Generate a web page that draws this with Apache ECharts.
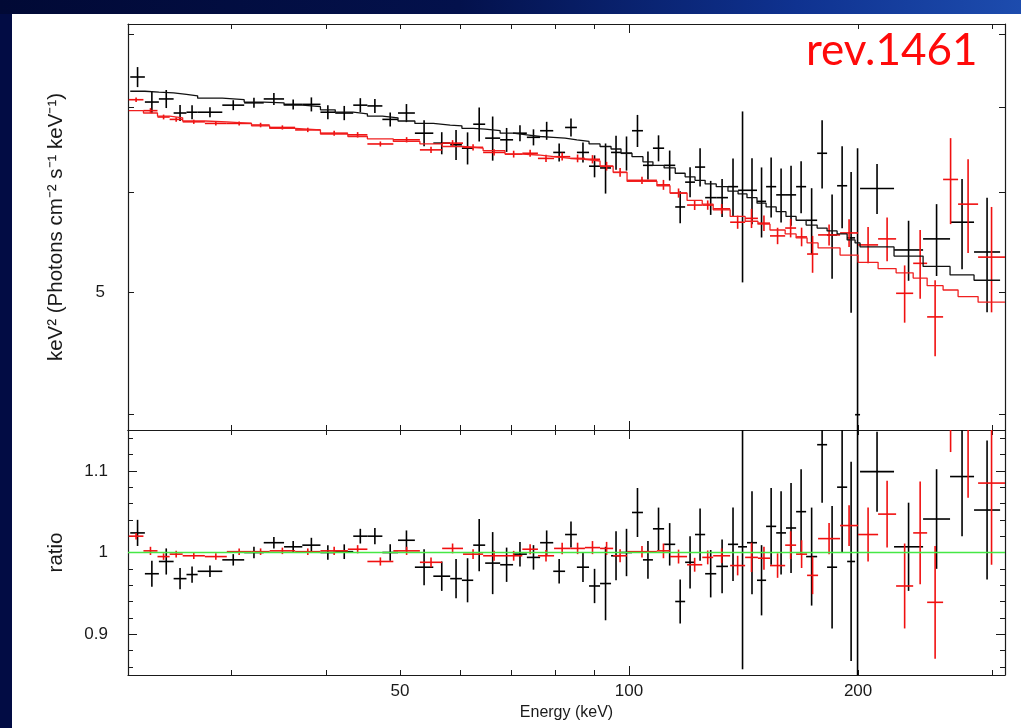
<!DOCTYPE html>
<html>
<head>
<meta charset="utf-8">
<script src="https://cdn.jsdelivr.net/npm/echarts@6/dist/echarts.min.js"></script>
<style>
html, body { margin: 0; padding: 0; width: 1021px; height: 728px; overflow: hidden; background: #020c44; }
#band { position: absolute; left: 0; top: 0; width: 1021px; height: 14px;
        background: linear-gradient(to right, #010935 0%, #03114c 45%, #0f3290 78%, #1d4cae 100%); }
#paper { position: absolute; left: 12px; top: 14px; right: 0; bottom: 0; background: #ffffff; }
#chart { position: absolute; left: 0; top: 0; width: 1021px; height: 728px; }
</style>
</head>
<body>
<div id="band"></div>
<div id="paper"></div>
<div id="chart"></div>
<script>
// axis ranges (keV, flux, ratio)
var energyRange = [21.95, 312];
var fluxRange = [3.89, 8.15];
var ratioRange = [0.85, 1.15];

// tick marks and labels
var energyTicks = [30, 40, 50, 60, 70, 80, 90, 200, 300];
var energyMajorTicks = [100];
var energyLabels = [50, 100, 200];
var fluxTicks = [4, 5, 6, 7, 8];
var fluxLabels = [5];
var ratioTicks = [0.86, 0.88, 0.92, 0.94, 0.96, 0.98, 1.02, 1.04, 1.06, 1.08, 1.12, 1.14];
var ratioMajorTicks = [0.9, 1, 1.1];

// black spectrum: bin edges (keV), data, errors, model, ratio
var blackEdges = [22.1, 23.1, 24.1, 25.2, 26.2, 27.1, 29.2, 31.2, 33.1, 35.2, 37.2, 39.3, 41.1, 43.4, 45.3, 47.4,
  49.7, 52.3, 55.3, 58.2, 60.3, 62.4, 64.7, 67.7, 70.4, 73.4, 76.4, 79.5, 82.4, 85.4, 88.6, 91.6, 94.7, 97.6,
  100.9, 104.3, 107.5, 111.2, 115.0, 118.5, 122.1, 125.9, 130.2, 134.9, 139.1, 142.9, 147.3, 151.4, 156.1,
  160.8, 165.8, 170.9, 176.7, 182.1, 187.7, 193.5, 198.2, 201.2, 223.0, 243.5, 264.2, 284.1, 307.4];
var blackFlux = [7.40, 7.07, 7.11, 6.93, 6.94, 6.94, 7.03, 7.06, 7.11, 7.04,
  7.04, 6.94, 6.93, 7.03, 7.02, 6.85, 6.93, 6.68, 6.56, 6.54,
  6.50, 6.79, 6.62, 6.60, 6.68, 6.63, 6.71, 6.45, 6.75, 6.45,
  6.29, 6.27, 6.45, 6.44, 6.71, 6.30, 6.50, 6.30, 5.84, 6.11,
  6.28, 5.94, 5.94, 6.06, 6.02, 6.02, 5.90, 6.06, 5.97, 5.97,
  6.06, 5.70, 6.44, 5.55, 6.07, 5.52, 4.0, 6.04, 5.40, 5.51,
  5.68, 5.38];
var blackFluxErr = [0.135, 0.142, 0.117, 0.101, 0.089, 0.063, 0.064, 0.064, 0.078, 0.064,
  0.090, 0.089, 0.090, 0.090, 0.090, 0.087, 0.114, 0.158, 0.132, 0.179,
  0.190, 0.210, 0.266, 0.144, 0.097, 0.097, 0.110, 0.106, 0.111, 0.118,
  0.126, 0.286, 0.200, 0.200, 0.196, 0.161, 0.154, 0.172, 0.170, 0.167,
  0.218, 0.184, 0.206, 0.320, 0.93, 0.362, 0.376, 0.331, 0.294, 0.326,
  0.287, 0.343, 0.40, 0.425, 0.453, 0.704, 2.5, 0.275, 0.295, 0.36,
  0.466, 0.559];
var blackModel = [7.21, 7.20, 7.19, 7.17, 7.15, 7.12, 7.10, 7.07, 7.06, 7.03,
  7.01, 6.97, 6.94, 6.92, 6.89, 6.87, 6.83, 6.80, 6.78, 6.77,
  6.74, 6.73, 6.71, 6.68, 6.66, 6.64, 6.63, 6.62, 6.60, 6.58,
  6.55, 6.52, 6.49, 6.44, 6.40, 6.34, 6.30, 6.27, 6.21, 6.17,
  6.13, 6.09, 6.06, 6.01, 5.98, 5.94, 5.88, 5.84, 5.79, 5.74,
  5.70, 5.65, 5.62, 5.59, 5.56, 5.50, 5.47, 5.43, 5.34, 5.24,
  5.16, 5.11];
var blackRatio = [1.024, 0.974, 0.989, 0.968, 0.973, 0.977, 0.991, 1.000, 1.012, 1.007,
  1.009, 1.000, 1.001, 1.020, 1.020, 1.000, 1.015, 0.982, 0.971, 0.968,
  0.966, 1.009, 0.987, 0.985, 0.998, 0.994, 1.012, 0.977, 1.022, 0.982,
  0.959, 0.962, 0.996, 1.000, 1.049, 0.991, 1.029, 1.010, 0.940, 0.988,
  1.022, 0.974, 0.983, 1.010, 1.007, 1.012, 0.966, 1.032, 1.024, 1.030,
  1.050, 0.995, 1.132, 0.982, 1.080, 0.989, 0.73, 1.099, 1.007, 1.041,
  1.093, 1.052];
var blackRatioErr = [0.016, 0.016, 0.016, 0.013, 0.010, 0.007, 0.007, 0.007, 0.007, 0.007,
  0.009, 0.009, 0.009, 0.009, 0.010, 0.010, 0.012, 0.022, 0.018, 0.024,
  0.027, 0.032, 0.038, 0.021, 0.015, 0.015, 0.015, 0.015, 0.016, 0.018,
  0.021, 0.045, 0.030, 0.029, 0.030, 0.023, 0.026, 0.026, 0.027, 0.032,
  0.032, 0.029, 0.033, 0.045, 0.150, 0.063, 0.043, 0.047, 0.051, 0.055,
  0.052, 0.060, 0.071, 0.075, 0.080, 0.122, 0.46, 0.049, 0.054, 0.061,
  0.073, 0.085];

// red spectrum
var redEdges = [22.0, 23.0, 24.0, 24.9, 25.9, 27.7, 29.6, 31.9, 33.7, 36.4, 39.3, 42.7, 45.3, 49.0, 53.1, 56.8,
  60.5, 64.3, 68.7, 72.4, 75.9, 79.7, 83.7, 87.5, 91.6, 95.3, 99.4, 108.8, 113.2, 119.2, 124.8, 129.0, 135.8,
  142.1, 147.7, 153.2, 160.4, 165.8, 171.4, 177.2, 189.4, 200.0, 212.5, 224.4, 236.3, 246.5, 258.7, 270.7,
  287.6, 312.0];
var redFlux = [7.10, 6.96, 6.88, 6.85, 6.82, 6.80, 6.80, 6.78, 6.75, 6.72,
  6.68, 6.66, 6.55, 6.60, 6.48, 6.56, 6.51, 6.45, 6.43, 6.44,
  6.38, 6.40, 6.38, 6.37, 6.29, 6.22, 6.13, 6.08, 5.99, 5.86,
  5.86, 5.82, 5.68, 5.72, 5.67, 5.54, 5.62, 5.53, 5.36, 5.55,
  5.57, 5.45, 5.51, 4.99, 5.27, 4.78, 6.14, 5.87, 5.33];
var redFluxErr = [0.030, 0.032, 0.030, 0.028, 0.026, 0.026, 0.025, 0.028, 0.026, 0.027,
  0.030, 0.033, 0.030, 0.032, 0.036, 0.036, 0.038, 0.036, 0.040, 0.040,
  0.042, 0.045, 0.045, 0.048, 0.050, 0.050, 0.040, 0.055, 0.050, 0.052,
  0.050, 0.052, 0.068, 0.10, 0.08, 0.083, 0.095, 0.094, 0.18, 0.105,
  0.14, 0.18, 0.22, 0.26, 0.33, 0.33, 0.48, 0.50, 0.51];
var redModel = [6.96, 6.93, 6.89, 6.87, 6.83, 6.82, 6.80, 6.77, 6.74, 6.72,
  6.67, 6.64, 6.61, 6.58, 6.55, 6.52, 6.50, 6.47, 6.43, 6.42,
  6.40, 6.38, 6.37, 6.35, 6.29, 6.22, 6.12, 6.07, 5.99, 5.91,
  5.87, 5.81, 5.74, 5.69, 5.66, 5.60, 5.56, 5.52, 5.47, 5.42,
  5.35, 5.28, 5.22, 5.18, 5.13, 5.06, 5.02, 4.96, 4.91];
var redRatio = [1.020, 1.002, 0.995, 0.998, 0.996, 0.995, 1.001, 1.001, 1.002, 1.001,
  1.002, 1.004, 0.989, 1.002, 0.988, 1.005, 0.998, 0.996, 0.996, 1.004,
  0.996, 1.005, 1.005, 1.006, 1.005, 0.996, 1.001, 1.002, 0.995, 0.985,
  0.994, 0.996, 0.984, 0.994, 0.993, 0.984, 1.009, 0.998, 0.972, 1.017,
  1.033, 1.022, 1.047, 0.959, 1.024, 0.939, 1.218, 1.187, 1.085];
var redRatioErr = [0.004, 0.005, 0.004, 0.004, 0.004, 0.004, 0.004, 0.004, 0.004, 0.004,
  0.005, 0.005, 0.005, 0.005, 0.006, 0.006, 0.006, 0.006, 0.006, 0.006,
  0.007, 0.007, 0.007, 0.008, 0.008, 0.008, 0.007, 0.009, 0.0085, 0.0085,
  0.0085, 0.009, 0.012, 0.018, 0.014, 0.015, 0.017, 0.017, 0.023, 0.019,
  0.025, 0.033, 0.041, 0.052, 0.063, 0.069, 0.095, 0.12, 0.10];

var L = function (v) { return Math.log10(v); };
var ink = '#1a1a1a';
var font = 'Liberation Sans';

// error crosses: horizontal bar over the bin, vertical bar for the error
function crossSeries(edges, vals, errs, xi, yi, color, logY, yRange) {
  var data = vals.map(function (v, i) {
    var lo = v - errs[i], hi = v + errs[i];
    if (logY) return [L(edges[i]), L(edges[i + 1]), L(v), lo > 0 ? L(lo) : -9, L(hi)];
    return [L(edges[i]), L(edges[i + 1]), v, lo, hi];
  });
  var yMin = logY ? L(yRange[0]) : yRange[0];
  var yMax = logY ? L(yRange[1]) : yRange[1];
  return {
    type: 'custom', xAxisIndex: xi, yAxisIndex: yi, clip: true, z: 2,
    encode: { x: [0, 1], y: [2, 3, 4] },
    data: data,
    renderItem: function (params, api) {
      var xl = api.value(0), xh = api.value(1), xm = (xl + xh) / 2;
      var y = api.value(2);
      var yl = Math.max(api.value(3), yMin), yh = Math.min(api.value(4), yMax);
      var st = { stroke: color, lineWidth: 1.6 };
      var kids = [];
      if (y >= yMin && y <= yMax) {
        var a = api.coord([xl, y]), b = api.coord([xh, y]);
        kids.push({ type: 'line', shape: { x1: a[0], y1: a[1], x2: b[0], y2: b[1] }, style: st });
      }
      if (yh > yl) {
        var c = api.coord([xm, yl]), d = api.coord([xm, yh]);
        kids.push({ type: 'line', shape: { x1: c[0], y1: c[1], x2: d[0], y2: d[1] }, style: st });
      }
      return { type: 'group', children: kids };
    }
  };
}

// folded model as histogram steps
function stepSeries(edges, model, color) {
  var pts = model.map(function (m, i) { return [L(edges[i]), L(m)]; });
  pts.push([L(edges[edges.length - 1]), L(model[model.length - 1])]);
  return {
    type: 'line', step: 'end', xAxisIndex: 0, yAxisIndex: 0, data: pts,
    symbol: 'none', z: 3, lineStyle: { color: color, width: 1.3 }, itemStyle: { color: color }
  };
}

function xAx(grid, pos, ticks, len, showLine, extra) {
  var ax = {
    type: 'value', gridIndex: grid, position: pos,
    min: L(energyRange[0]), max: L(energyRange[1]),
    axisLine: { show: showLine, onZero: false, lineStyle: { color: ink, width: 1.2 } },
    axisTick: { show: true, inside: true, length: len, customValues: ticks.map(L), lineStyle: { color: ink } },
    axisLabel: { show: false },
    splitLine: { show: false }
  };
  return Object.assign(ax, extra || {});
}

function yAx(grid, pos, range, ticks, len, showLine, logY, extra) {
  var ax = {
    type: 'value', gridIndex: grid, position: pos,
    min: logY ? L(range[0]) : range[0], max: logY ? L(range[1]) : range[1],
    axisLine: { show: showLine, onZero: false, lineStyle: { color: ink, width: 1.2 } },
    axisTick: { show: true, inside: true, length: len, customValues: logY ? ticks.map(L) : ticks, lineStyle: { color: ink } },
    axisLabel: { show: false },
    splitLine: { show: false }
  };
  return Object.assign(ax, extra || {});
}

var labelStyle = { show: true, color: ink, fontSize: 17, fontFamily: font };
var xNameStyle = { color: ink, fontSize: 16, fontFamily: font };
var yNameStyle = { color: ink, fontSize: 20.5, fontFamily: font };

var chart = echarts.init(document.getElementById('chart'), null, { renderer: 'canvas' });

chart.setOption({
  animation: false,
  backgroundColor: 'transparent',
  grid: [
    { left: 128, top: 24, width: 877, height: 406 },
    { left: 128, top: 430, width: 877, height: 245 }
  ],
  xAxis: [
    xAx(0, 'bottom', energyTicks, 5, true),
    xAx(0, 'top', energyTicks, 5, true),
    xAx(1, 'bottom', energyTicks, 5, true, {
      axisLabel: Object.assign({}, labelStyle, {
        margin: 8, customValues: energyLabels.map(L),
        formatter: function (v) { return String(Math.round(Math.pow(10, v))); }
      }),
      name: 'Energy (keV)', nameLocation: 'middle', nameGap: 30, nameTextStyle: xNameStyle
    }),
    xAx(1, 'top', energyTicks, 5, true),
    xAx(0, 'bottom', energyMajorTicks, 9, false),
    xAx(0, 'top', energyMajorTicks, 9, false),
    xAx(1, 'bottom', energyMajorTicks, 9, false),
    xAx(1, 'top', energyMajorTicks, 9, false)
  ],
  yAxis: [
    yAx(0, 'left', fluxRange, fluxTicks, 6, true, true, {
      axisLabel: Object.assign({}, labelStyle, {
        margin: 23, customValues: fluxLabels.map(L),
        formatter: function (v) { return String(Math.round(Math.pow(10, v))); }
      }),
      name: 'keV\u00b2 (Photons cm\u207b\u00b2 s\u207b\u00b9 keV\u207b\u00b9)',
      nameLocation: 'middle', nameGap: 61, nameTextStyle: yNameStyle
    }),
    yAx(0, 'right', fluxRange, fluxTicks, 6, true, true),
    yAx(1, 'left', ratioRange, ratioTicks, 5, true, false, {
      name: 'ratio', nameLocation: 'middle', nameGap: 61, nameTextStyle: yNameStyle
    }),
    yAx(1, 'right', ratioRange, ratioTicks, 5, true, false),
    yAx(1, 'left', ratioRange, ratioMajorTicks, 9, false, false, {
      axisLabel: Object.assign({}, labelStyle, {
        margin: 20, customValues: ratioMajorTicks,
        formatter: function (v) { return String(Math.round(v * 10) / 10); }
      })
    }),
    yAx(1, 'right', ratioRange, ratioMajorTicks, 9, false, false)
  ],
  graphic: [
    { type: 'text', left: 806, top: 29, z: 10,
      style: { text: 'rev.1461', fill: '#ff0a0a', font: '44px Lato' } }
  ],
  series: [
    crossSeries(blackEdges, blackFlux, blackFluxErr, 0, 0, '#000000', true, fluxRange),
    crossSeries(redEdges, redFlux, redFluxErr, 0, 0, '#f01010', true, fluxRange),
    stepSeries(blackEdges, blackModel, '#111111'),
    stepSeries(redEdges, redModel, '#f02020'),
    crossSeries(blackEdges, blackRatio, blackRatioErr, 2, 2, '#000000', false, ratioRange),
    crossSeries(redEdges, redRatio, redRatioErr, 2, 2, '#f01010', false, ratioRange),
    {
      type: 'line', xAxisIndex: 2, yAxisIndex: 2, symbol: 'none', z: 4,
      data: [[L(energyRange[0]), 1], [L(energyRange[1]), 1]],
      lineStyle: { color: '#45e845', width: 1.6 }
    }
  ]
});
</script>
</body>
</html>
